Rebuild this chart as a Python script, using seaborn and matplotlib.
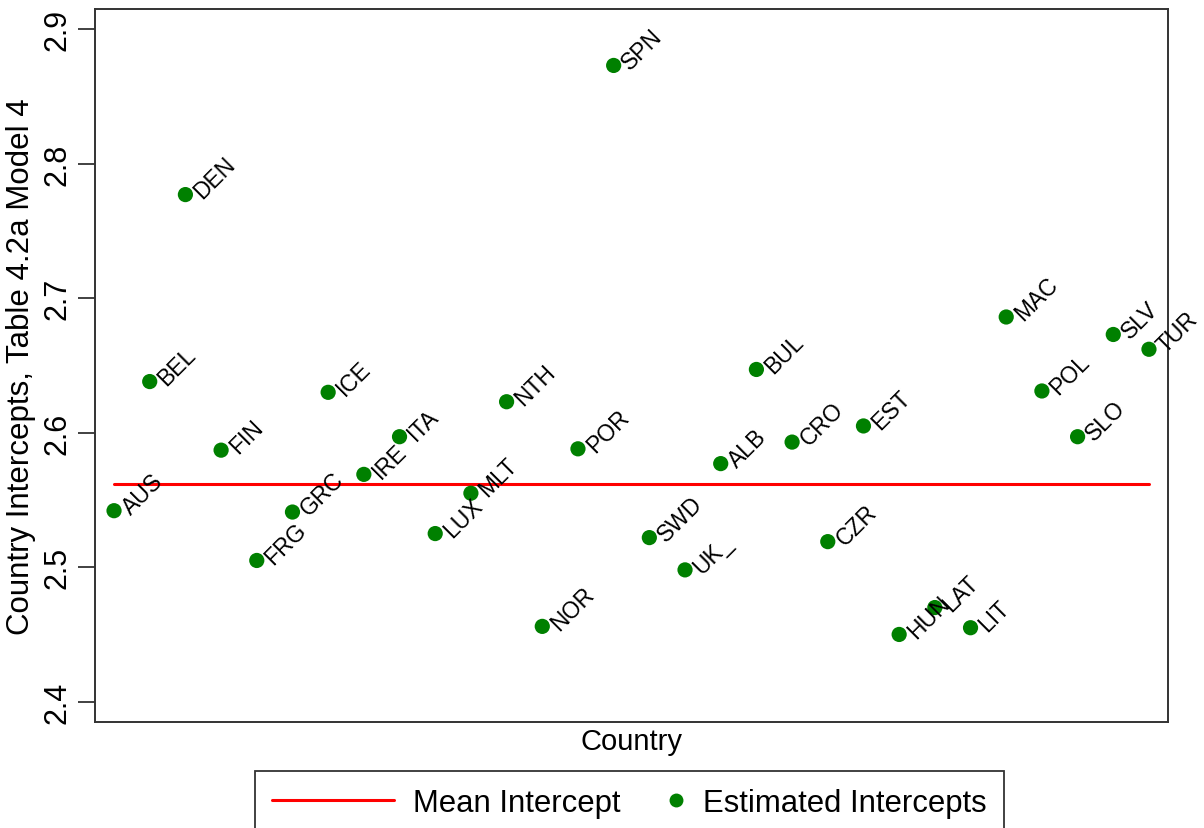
import numpy as np
import pandas as pd
import matplotlib
matplotlib.use("Agg")
import matplotlib.pyplot as plt
import seaborn as sns
from matplotlib.lines import Line2D
from matplotlib.legend_handler import HandlerLine2D

# country codes in plotting order
countries = ["AUS", "BEL", "DEN", "FIN", "FRG", "GRC", "ICE", "IRE", "ITA", "LUX",
             "MLT", "NTH", "NOR", "POR", "SPN", "SWD", "UK_", "ALB", "BUL", "CRO",
             "CZR", "EST", "HUN", "LAT", "LIT", "MAC", "POL", "SLO", "SLV", "TUR"]

# estimated country intercepts
intercepts = [2.542, 2.638, 2.777, 2.587, 2.505, 2.541, 2.630, 2.569, 2.597, 2.525,
              2.555, 2.623, 2.456, 2.588, 2.873, 2.522, 2.498, 2.577, 2.647, 2.593,
              2.519, 2.605, 2.450, 2.470, 2.455, 2.686, 2.631, 2.597, 2.673, 2.662]

mean_intercept = 2.562

y_ticks = [2.4, 2.5, 2.6, 2.7, 2.8, 2.9]

df = pd.DataFrame({"country": countries,
                   "pos": np.arange(1, len(countries) + 1),
                   "intercept": intercepts})


class RightMarker(HandlerLine2D):
    # put the legend dot near the right end of the handle, like stata does
    def get_xdata(self, legend, xdescent, ydescent, width, height, fontsize):
        m = -xdescent + width - 0.25 * fontsize
        return [m - 1, m + 1], [m]


sns.set_style("white")
plt.rcParams["font.family"] = ["Liberation Sans", "DejaVu Sans"]
plt.rcParams["text.color"] = "black"
plt.rcParams["axes.labelcolor"] = "black"
plt.rcParams["ytick.color"] = "black"

fig = plt.figure(figsize=(12.04, 8.29), dpi=100)
ax = fig.add_axes([0.079, 0.128, 0.891, 0.860])

# mean line across the country range
mean_df = pd.DataFrame({"pos": [df["pos"].min(), df["pos"].max()],
                        "intercept": [mean_intercept, mean_intercept]})
sns.lineplot(data=mean_df, x="pos", y="intercept", color="#ff0000", linewidth=2.2, ax=ax)

sns.scatterplot(data=df, x="pos", y="intercept", color="#008000", s=120,
                edgecolor="none", ax=ax, zorder=3)

for _, r in df.iterrows():
    ax.annotate(r["country"], (r["pos"], r["intercept"]), xytext=(12, -3),
                textcoords="offset points", rotation=45, rotation_mode="anchor",
                ha="left", va="baseline", fontsize=16.5, color="black")

ax.set_xlim(0.47, 30.53)
ax.set_ylim(2.385, 2.915)
ax.set_xticks([])
ax.set_yticks(y_ticks)
ax.set_yticklabels([f"{t:.1f}" for t in y_ticks], rotation=90, va="center", fontsize=22)
ax.tick_params(axis="y", direction="out", length=12, width=1.3, color="#333333", pad=4, left=True)

ax.set_xlabel("Country", fontsize=21, labelpad=4)
ax.set_ylabel("Country Intercepts, Table 4.2a Model 4", fontsize=22.5, labelpad=5)

for s in ax.spines.values():
    s.set_color("#333333")
    s.set_linewidth(1.4)

line_h = Line2D([0], [0], color="#ff0000", linewidth=2.2)
dot_h = Line2D([0], [0], marker="o", color="none", markerfacecolor="#008000",
               markeredgecolor="none", markersize=10)
leg = fig.legend([line_h, dot_h], ["Mean Intercept", "Estimated Intercepts"], loc="center",
                 bbox_to_anchor=(0.523, 0.030), ncol=2, fontsize=22.4, frameon=True,
                 fancybox=False, handlelength=3.9, handletextpad=0.62,
                 columnspacing=-1.85, borderpad=0.55, borderaxespad=0,
                 handler_map={dot_h: RightMarker()})
leg.get_frame().set_edgecolor("black")
leg.get_frame().set_linewidth(1.3)

fig.savefig("out.png", dpi=100)
